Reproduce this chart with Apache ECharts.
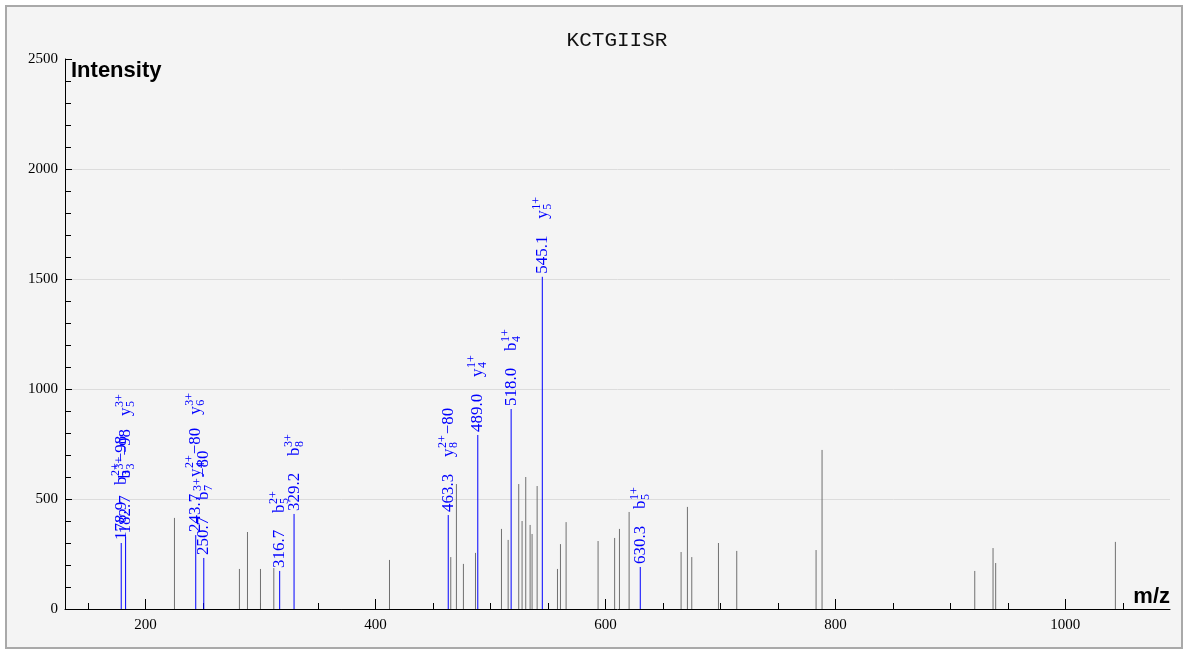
<!DOCTYPE html>
<html><head><meta charset="utf-8">
<script src="https://cdn.jsdelivr.net/npm/echarts@6/dist/echarts.min.js"></script>
<style>html,body{margin:0;padding:0;background:#fff;}#c{width:1188px;height:653px;}</style>
</head><body><div id="c"></div>
<script>
const chartTitle = 'KCTGIISR';
const xLabel = 'm/z';
const yLabel = 'Intensity';
const xMajorTicks = [200, 400, 600, 800, 1000];
const xMinorTicks = [150, 250, 300, 350, 450, 500, 550, 650, 700, 750, 850, 900, 950, 1050];

// unannotated peaks
const peakMz = [225.2, 281.7, 288.7, 300.0, 311.6, 412.2, 465.5, 470.4, 476.5, 487.0,
  509.6, 515.4, 524.6, 527.5, 530.7, 534.5, 536.2, 540.6, 558.3, 560.9, 565.8,
  593.6, 608.0, 612.2, 620.6, 665.8, 671.3, 675.1, 698.3, 714.2, 783.2, 788.4,
  921.2, 937.1, 939.4, 1043.5];
const peakIntensity = [414, 182, 350, 182, 186, 223, 236, 568, 205, 255,
  364, 314, 568, 400, 600, 382, 341, 559, 182, 295, 395,
  309, 323, 364, 441, 259, 464, 236, 300, 264, 268, 723,
  173, 277, 209, 305];

// annotated (matched) peaks
const ionMz = [178.9, 182.7, 243.7, 250.7, 316.7, 329.2, 463.3, 489.0, 518.0, 545.1, 630.3];
const ionIntensity = [300, 330, 336, 232, 173, 432, 427, 791, 909, 1510, 191];
// [ion letter, subscript, superscript, suffix]
const ionLabels = [
  [['b', '3', '2+', '\u221298']],
  [['b', '3', '3+', '\u221298'], ['y', '5', '3+', '']],
  [['y', '4', '2+', '\u221280'], ['y', '6', '3+', '']],
  [['b', '7', '3+', '\u221280']],
  [['b', '5', '2+', '']],
  [['b', '8', '3+', '']],
  [['y', '8', '2+', '\u221280']],
  [['y', '4', '1+', '']],
  [['b', '4', '1+', '']],
  [['y', '5', '1+', '']],
  [['b', '5', '1+', '']]
];

const BLUE = '#0000ff';
const MZ_FONT = '17px "Liberation Serif"';
const BASE_FONT = '17px "Liberation Serif"';
const SCRIPT_FONT = '12px "Liberation Serif"';
const ctx = document.createElement('canvas').getContext('2d');
function tw(t, f) { ctx.font = f; return ctx.measureText(t).width; }

const chart = echarts.init(document.getElementById('c'), null, { renderer: 'canvas' });

const axisFont = { fontFamily: 'Liberation Serif', fontSize: 15, color: '#000' };
const plain = function (v) { return String(v); };

chart.setOption({
  backgroundColor: '#ffffff',
  animation: false,
  graphic: [
    { type: 'rect', z: -100, shape: { x: 6, y: 6, width: 1176, height: 642 },
      style: { fill: '#f4f4f4', stroke: '#a9a9a9', lineWidth: 2 } },
    { type: 'text', x: 617, y: 40, z: 10,
      style: { text: chartTitle, font: '21px "Liberation Mono"', fill: '#111', textAlign: 'center', textVerticalAlign: 'middle' } },
    { type: 'text', x: 71, y: 71, z: 10,
      style: { text: yLabel, font: 'bold 22px "Liberation Sans"', fill: '#000', textAlign: 'left', textVerticalAlign: 'middle' } },
    { type: 'text', x: 1170, y: 597, z: 10,
      style: { text: xLabel, font: 'bold 22px "Liberation Sans"', fill: '#000', textAlign: 'right', textVerticalAlign: 'middle' } }
  ],
  grid: { left: 65, right: 18, top: 59, bottom: 44, containLabel: false },
  xAxis: [{
    type: 'value', min: 130, max: 1091, position: 'bottom',
    axisLine: { show: true, lineStyle: { color: '#000', width: 1 } },
    axisTick: { show: true, inside: true, length: 10, customValues: xMajorTicks, lineStyle: { color: '#000' } },
    axisLabel: Object.assign({ show: true, margin: 9, customValues: xMajorTicks, formatter: plain }, axisFont),
    splitLine: { show: false }
  }, {
    type: 'value', min: 130, max: 1091, position: 'bottom',
    axisLine: { show: false },
    axisTick: { show: true, inside: true, length: 6, customValues: xMinorTicks, lineStyle: { color: '#000' } },
    axisLabel: { show: false },
    splitLine: { show: false }
  }],
  yAxis: {
    type: 'value', min: 0, max: 2500, interval: 500,
    axisLine: { show: true, lineStyle: { color: '#000', width: 1 } },
    axisTick: { show: true, inside: true, length: 7, lineStyle: { color: '#000' } },
    minorTick: { show: true, splitNumber: 5, length: 6, lineStyle: { color: '#000' } },
    axisLabel: Object.assign({ margin: 7, formatter: plain }, axisFont),
    splitLine: { show: true, showMinLine: false, showMaxLine: false, lineStyle: { color: '#dcdcdc', width: 1 } }
  },
  series: [{
    type: 'custom',
    xAxisIndex: 0,
    data: peakMz.map((m, i) => [m, peakIntensity[i]]),
    encode: { x: 0, y: 1 },
    renderItem: function (params, api) {
      const p0 = api.coord([api.value(0), 0]);
      const p1 = api.coord([api.value(0), api.value(1)]);
      return { type: 'line', shape: { x1: p0[0], y1: p0[1], x2: p1[0], y2: p1[1] },
        style: { stroke: '#707070', lineWidth: 1 } };
    }
  }, {
    type: 'custom',
    xAxisIndex: 0,
    z: 3,
    data: ionMz.map((m, i) => [m, ionIntensity[i]]),
    encode: { x: 0, y: 1 },
    renderItem: function (params, api) {
      const i = params.dataIndex;
      const mz = api.value(0);
      const p0 = api.coord([mz, 0]);
      const p1 = api.coord([mz, api.value(1)]);
      const texts = [{ type: 'text', x: 3, y: 0,
        style: { text: ionMz[i].toFixed(1), font: MZ_FONT, fill: BLUE, textAlign: 'left', textVerticalAlign: 'middle' } }];
      let pos = 58;
      ionLabels[i].forEach(function (a) {
        const wb = tw(a[0], BASE_FONT);
        texts.push({ type: 'text', x: pos, y: 0,
          style: { text: a[0], font: BASE_FONT, fill: BLUE, textAlign: 'left', textVerticalAlign: 'middle' } });
        texts.push({ type: 'text', x: pos + wb + 0.5, y: -5.5,
          style: { text: a[2], font: SCRIPT_FONT, fill: BLUE, textAlign: 'left', textVerticalAlign: 'middle' } });
        texts.push({ type: 'text', x: pos + wb + 0.5, y: 5.5,
          style: { text: a[1], font: SCRIPT_FONT, fill: BLUE, textAlign: 'left', textVerticalAlign: 'middle' } });
        const ws = Math.max(tw(a[2], SCRIPT_FONT), tw(a[1], SCRIPT_FONT));
        let total = wb + ws + 1;
        if (a[3]) {
          texts.push({ type: 'text', x: pos + wb + ws + 1.5, y: 0,
            style: { text: a[3], font: BASE_FONT, fill: BLUE, textAlign: 'left', textVerticalAlign: 'middle' } });
          total += tw(a[3], BASE_FONT) + 0.5;
        }
        pos += total + 13;
      });
      return { type: 'group', children: [
        { type: 'line', shape: { x1: p0[0], y1: p0[1], x2: p1[0], y2: p1[1] }, style: { stroke: BLUE, lineWidth: 1 } },
        { type: 'group', x: p1[0], y: p1[1], rotation: Math.PI / 2, children: texts }
      ] };
    }
  }]
});
</script>
</body></html>
